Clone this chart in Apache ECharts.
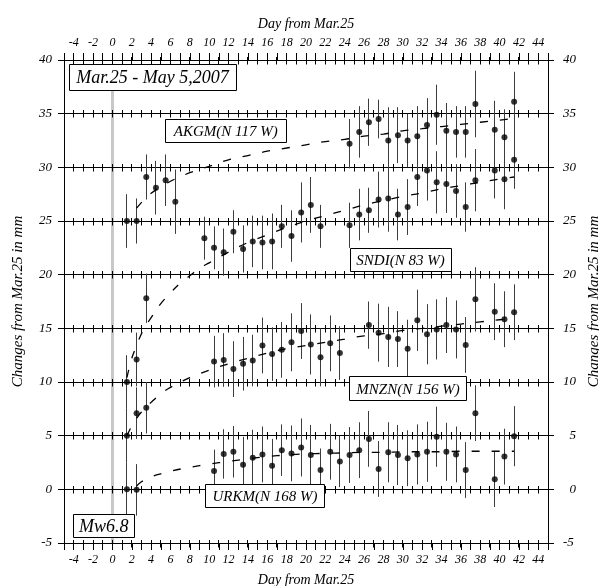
<!DOCTYPE html>
<html><head><meta charset="utf-8">
<script src="https://cdn.jsdelivr.net/npm/echarts@6/dist/echarts.min.js"></script>
<style>html,body{margin:0;padding:0;background:#fff}#c{width:599px;height:586px}</style>
</head><body><div id="c"></div>
<script>
// ---- data ----
const days = [1.5,2.5,3.5,4.5,5.5,6.5,9.5,10.5,11.5,12.5,13.5,14.5,15.5,16.5,17.5,18.5,19.5,20.5,21.5,22.5,23.5,24.5,25.5,26.5,27.5,28.5,29.5,30.5,31.5,32.5,33.5,34.5,35.5,36.5,37.5,39.5,40.5,41.5];
const _ = null;
const akgm    = [25.0,25.0,29.1,28.1,28.8,26.8,_, _,_,_,_,_,_,_,_,_,_,_,_,_,_, 32.2,33.3,34.2,34.5,32.5,33.0,32.5,32.9,33.95,34.9,33.4,33.3,33.3,35.9, 33.5,32.8,36.1];
const akgmErr = [2.5,2.1,2.1,2.5,2.4,3.0,_, _,_,_,_,_,_,_,_,_,_,_,_,_,_, 2.3,2.4,2.2,1.8,3.1,2.6,2.5,2.8,2.5,2.8,2.6,2.4,2.4,3.1, 2.7,2.6,2.8];
const sndi    = [10.0,12.1,17.8,_,_,_,23.4, 22.5,22.1,24.0,22.4,23.1,23.0,23.1,24.5,23.6,25.8,26.5,24.5,_,_, 24.6,25.6,26.0,27.0,27.1,25.6,26.3,29.1,29.7,28.6,28.45,27.8,26.3,28.8, 29.7,28.9,30.7];
const sndiErr = [2.5,2.5,2.3,_,_,_,2.0, 2.0,2.2,2.0,2.2,2.4,2.5,2.6,2.0,2.4,2.8,2.6,2.0,_,_, 2.1,2.4,2.1,2.6,3.1,2.4,2.6,2.7,2.8,2.9,2.7,2.5,2.3,2.9, 2.6,2.8,2.7];
const mnzn    = [5.0,7.1,7.6,_,_,_,_, 11.9,12.05,11.2,11.7,12.0,13.4,12.6,13.0,13.7,14.75,13.5,12.3,13.6,12.7, _,_,15.3,14.6,14.2,14.0,13.1,15.75,14.45,14.9,15.3,14.9,13.45,17.7, 16.55,15.85,16.5];
const mnznErr = [2.5,2.4,2.4,_,_,_,_, 2.4,2.5,2.6,2.5,2.4,2.6,2.5,2.6,2.7,2.6,2.8,2.7,2.6,2.5, _,_,2.2,2.7,2.8,2.6,2.7,2.85,2.8,2.8,2.6,2.7,2.6,3.0, 2.65,2.6,2.6];
const urkm    = [0.0,-0.05,_,_,_,_,_, 1.7,3.3,3.5,2.3,2.95,3.25,2.2,3.65,3.35,3.9,3.2,1.8,3.5,2.6, 3.2,3.65,4.7,1.9,3.45,3.2,2.9,3.25,3.5,4.9,3.5,3.25,1.8,7.1, 0.95,3.05,4.95];
const urkmErr = [2.5,2.4,_,_,_,_,_, 2.0,2.3,2.4,2.6,2.6,2.6,2.5,2.4,2.6,2.7,2.8,2.0,2.6,2.4, 2.6,2.6,2.6,2.6,2.8,2.8,2.6,2.8,2.8,2.8,2.7,2.6,2.6,2.6, 2.6,2.6,2.8];

// fitted curves
const akgmFitX = [2.5,3.5,4.5,6,8,10,12,14,16,18,20,22,24,26,28,30,32,34,36,38,40,41.5];
const akgmFitY = [26.2,27.2,27.9,28.7,29.5,30.1,30.7,31.1,31.5,31.8,32.1,32.4,32.6,32.9,33.1,33.4,33.6,33.8,34.0,34.2,34.4,34.55];
const sndiFitX = [1.5,2,2.5,3,3.5,4,5,6,7,8,9,10,12,14,16,18,20,22,24,26,28,30,32,34,36,38,40,41.5];
const sndiFitY = [10.4,12.2,13.4,14.5,15.3,16.0,17.3,18.3,19.2,19.9,20.6,21.1,22.1,23.0,23.7,24.4,25.0,25.5,26.0,26.5,26.9,27.3,27.6,28.0,28.3,28.6,28.9,29.1];
const mnznFitX = [1.5,2,2.5,3,4,5,6,8,10,12,14,16,18,20,22,24,26,28,30,32,34,36,38,40,41.5];
const mnznFitY = [5.0,5.9,6.6,7.2,8.1,8.9,9.5,10.4,11.1,11.7,12.2,12.7,13.1,13.4,13.7,14.0,14.3,14.5,14.8,15.0,15.2,15.4,15.6,15.8,15.95];
const urkmFitX = [2.5,3,4,5,6,8,10,12,14,16,18,20,22,24,26,28,30,32,34,36,38,40,41.5];
const urkmFitY = [0.3,0.7,1.15,1.45,1.7,2.05,2.35,2.6,2.85,3.05,3.2,3.3,3.35,3.4,3.45,3.45,3.5,3.5,3.5,3.55,3.55,3.55,3.55];

const xTickLabels = [-4,-2,0,2,4,6,8,10,12,14,16,18,20,22,24,26,28,30,32,34,36,38,40,42,44];
const yTickLabels = [-5,0,5,10,15,20,25,30,35,40];
const xName = 'Day from Mar.25';
const yName = 'Changes from Mar.25 in mm';
const eqDay = 0;
const stations = [
  {name:'AKGM(N 117 W)', v:akgm, e:akgmErr, fx:akgmFitX, fy:akgmFitY},
  {name:'SNDI(N 83 W)',  v:sndi, e:sndiErr, fx:sndiFitX, fy:sndiFitY},
  {name:'MNZN(N 156 W)', v:mnzn, e:mnznErr, fx:mnznFitX, fy:mnznFitY},
  {name:'URKM(N 168 W)', v:urkm, e:urkmErr, fx:urkmFitX, fy:urkmFitY}
];

// ---- chart ----
const FAM = 'Liberation Serif';
const X_MIN = -5, X_MAX = 45, Y_MIN = -5, Y_MAX = 40;
const chart = echarts.init(document.getElementById('c'), null, {renderer:'canvas'});
const crisp = v => Math.round(v - 0.5) + 0.5;

const series = [];
series.push({
  type:'custom', silent:true, z:1,
  data: yTickLabels.map(v => [X_MIN, v]),
  encode:{x:0, y:1},
  renderItem:(params, api) => {
    const yv = api.value(1);
    const a = api.coord([X_MIN, yv]), b = api.coord([X_MAX, yv]);
    const yy = crisp(a[1]);
    const ch = [];
    if (yv !== Y_MIN && yv !== Y_MAX) ch.push({type:'line', shape:{x1:a[0], y1:yy, x2:b[0], y2:yy}, style:{stroke:'#000', lineWidth:1}});
    for (let x = X_MIN; x <= X_MAX; x++) {
      const px = crisp(api.coord([x, yv])[0]);
      ch.push({type:'line', shape:{x1:px, y1:yy-3.5, x2:px, y2:yy+4}, style:{stroke:'#000', lineWidth:1}});
    }
    return {type:'group', children:ch};
  },
  markLine:{
    silent:true, symbol:'none', z:0,
    lineStyle:{color:'#c8c8c8', width:3, type:'solid'},
    label:{show:false},
    data:[[{coord:[eqDay, Y_MIN]},{coord:[eqDay, 37.5]}]]
  }
});

stations.forEach(st => {
  const pts = [], bars = [];
  days.forEach((d,i) => {
    if (st.v[i] != null) { pts.push([d, st.v[i]]); bars.push([d, st.v[i]-st.e[i], st.v[i]+st.e[i]]); }
  });
  series.push({
    type:'custom', name:st.name+' err', data:bars, encode:{x:0, y:[1,2]}, z:3, silent:true,
    renderItem:(params, api) => {
      const p1 = api.coord([api.value(0), api.value(1)]);
      const p2 = api.coord([api.value(0), api.value(2)]);
      const px = crisp(p1[0]);
      return {type:'line', shape:{x1:px, y1:p1[1], x2:px, y2:p2[1]}, style:{stroke:'#3c3c3c', lineWidth:1}};
    }
  });
  series.push({
    type:'line', name:st.name+' fit', data:st.fx.map((x,i)=>[x, st.fy[i]]),
    showSymbol:false, symbol:'none', smooth:0.4, z:4, silent:true,
    lineStyle:{color:'#000', width:1.3, type:[8,12]}
  });
  series.push({
    type:'scatter', name:st.name, data:pts, symbol:'circle', symbolSize:6, z:5, silent:true,
    itemStyle:{color:'#000'}
  });
});

function tstyle(size) {
  return {fontFamily:FAM, fontStyle:'italic', fontWeight:'normal', fontSize:size, color:'#000'};
}
const xAxisBase = {
  type:'value', min:X_MIN, max:X_MAX, interval:1,
  name:xName, nameLocation:'middle',
  nameTextStyle:tstyle(14),
  axisLine:{show:true, onZero:false, lineStyle:{color:'#000', width:1}},
  axisTick:{show:true, length:7, inside:false, lineStyle:{color:'#000', width:1}},
  splitLine:{show:false}
};
const xLabelFmt = v => xTickLabels.indexOf(v) >= 0 ? String(v) : '';
const yAxisBase = {
  type:'value', min:Y_MIN, max:Y_MAX, interval:5,
  name:yName, nameLocation:'middle', nameRotate:90,
  nameTextStyle:tstyle(15),
  axisLine:{show:true, onZero:false, lineStyle:{color:'#000', width:1}},
  axisTick:{show:true, length:6, inside:false, lineStyle:{color:'#000', width:1}},
  splitLine:{show:false}
};

function box(cx, cy, w, h, text, size) {
  return {
    type:'group', z:100,
    children:[
      {type:'rect', shape:{x:crisp(cx - w/2), y:crisp(cy - h/2), width:Math.round(w), height:Math.round(h)},
       style:{fill:'#fff', stroke:'#000', lineWidth:1}, z:100},
      {type:'text', x:cx, y:cy+1, z:101,
       style:{text:text, font:'italic ' + size + 'px "' + FAM + '"', fill:'#000', align:'center', verticalAlign:'middle'}}
    ]
  };
}

chart.setOption({
  animation:false,
  backgroundColor:'#fff',
  grid:{left:64, right:51, top:60, bottom:43, containLabel:false, outerBoundsMode:'none'},
  xAxis:[
    Object.assign({}, xAxisBase, {position:'bottom', nameGap:30,
      axisLabel:Object.assign({margin:11, formatter:xLabelFmt, showMinLabel:true, showMaxLabel:true}, tstyle(12))}),
    Object.assign({}, xAxisBase, {position:'top', nameGap:29,
      axisLabel:Object.assign({margin:11, formatter:xLabelFmt, showMinLabel:true, showMaxLabel:true}, tstyle(12))})
  ],
  yAxis:[
    Object.assign({}, yAxisBase, {position:'left', nameGap:38,
      axisLabel:Object.assign({margin:12}, tstyle(13))}),
    Object.assign({}, yAxisBase, {position:'right', nameGap:36,
      axisLabel:Object.assign({margin:15, formatter: v => (String(v).length === 1 ? '\u2007' : '') + v}, tstyle(13))})
  ],
  graphic:[
    box(152.5, 77, 167, 26, 'Mar.25 - May 5,2007', 18),
    box(225.7, 131, 120.7, 23.4, stations[0].name, 15),
    box(400.5, 259.7, 101, 22.7, stations[1].name, 15),
    box(408, 388.7, 117.4, 24, stations[2].name, 15),
    box(265, 496, 118.6, 23.4, stations[3].name, 15),
    box(103.7, 526, 60.7, 22.6, 'Mw6.8', 18)
  ],
  series:series
});
</script>
</body></html>
